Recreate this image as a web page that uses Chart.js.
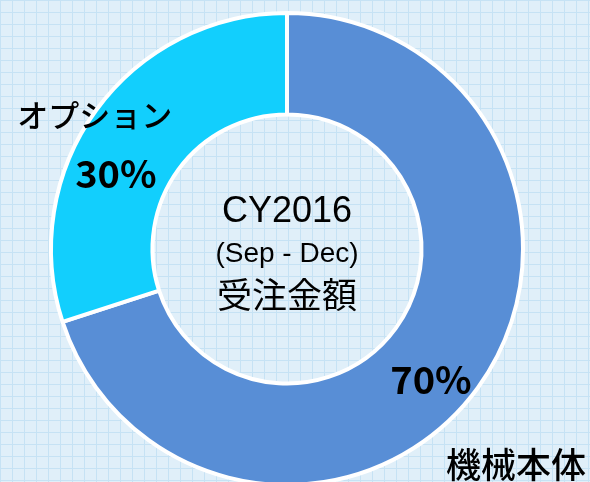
<!DOCTYPE html>
<html>
<head>
<meta charset="utf-8">
<script src="https://cdn.jsdelivr.net/npm/chart.js@4.4.0/dist/chart.umd.min.js"></script>
<style>
  html, body { margin: 0; padding: 0; overflow: hidden; }
  body {
    width: 590px; height: 482px;
    background-color: #e0eff9;
    background-image:
      linear-gradient(to right, #c6e2f4 1px, transparent 1px),
      linear-gradient(to bottom, #c6e2f4 1px, transparent 1px);
    background-size: 12px 12px;
  }
  #wrap { position: relative; width: 590px; height: 520px; }
</style>
</head>
<body>
<div id="wrap"><canvas id="donut"></canvas></div>
<script>
const categories = ['機械本体', 'オプション'];
const shares = [70, 30];
const centerLines = ['CY2016', '(Sep - Dec)', '受注金額'];

// label anchors, as fractions of the outer radius from the centre
const pctAnchors = [[0.61, 0.555], [-0.725, -0.32]];
const nameAnchors = [[0.97, 0.915], [-0.815, -0.565]];

const labelPlugin = {
  id: 'donutLabels',
  afterDraw(chart) {
    const ctx = chart.ctx;
    const arc = chart.getDatasetMeta(0).data[0];
    const cx = arc.x, cy = arc.y, r = arc.outerRadius;
    ctx.save();
    ctx.fillStyle = '#000';
    ctx.textAlign = 'center';
    ctx.textBaseline = 'middle';

    ctx.font = "36px 'Liberation Sans', Arial, sans-serif";
    ctx.fillText(centerLines[0], cx, cy - 37);
    ctx.font = "28px 'Liberation Sans', Arial, sans-serif";
    ctx.fillText(centerLines[1], cx, cy + 5);
    ctx.font = "35px 'Noto Sans CJK JP', sans-serif";
    ctx.fillText(centerLines[2], cx, cy + 46);

    shares.forEach((v, i) => {
      ctx.font = "bold 38px 'Noto Sans CJK JP', sans-serif";
      ctx.fillText(v + '%', cx + pctAnchors[i][0] * r, cy + pctAnchors[i][1] * r);
      ctx.font = i === 0 ? "500 35px 'Noto Sans CJK JP', sans-serif" : "500 31px 'Noto Sans CJK JP', sans-serif";
      ctx.fillText(categories[i], cx + nameAnchors[i][0] * r, cy + nameAnchors[i][1] * r);
    });
    ctx.restore();
  }
};

new Chart(document.getElementById('donut').getContext('2d'), {
  type: 'doughnut',
  data: {
    labels: categories,
    datasets: [{
      data: shares,
      backgroundColor: ['#588ed6', '#12cffd'],
      borderColor: '#ffffff',
      borderWidth: 4,
      hoverOffset: 0
    }]
  },
  options: {
    responsive: true,
    maintainAspectRatio: false,
    animation: false,
    cutout: '57%',
    layout: { padding: { left: 48, right: 64, top: 11, bottom: 33 } },
    plugins: {
      legend: { display: false },
      tooltip: { enabled: false }
    }
  },
  plugins: [labelPlugin]
});
</script>
</body>
</html>
